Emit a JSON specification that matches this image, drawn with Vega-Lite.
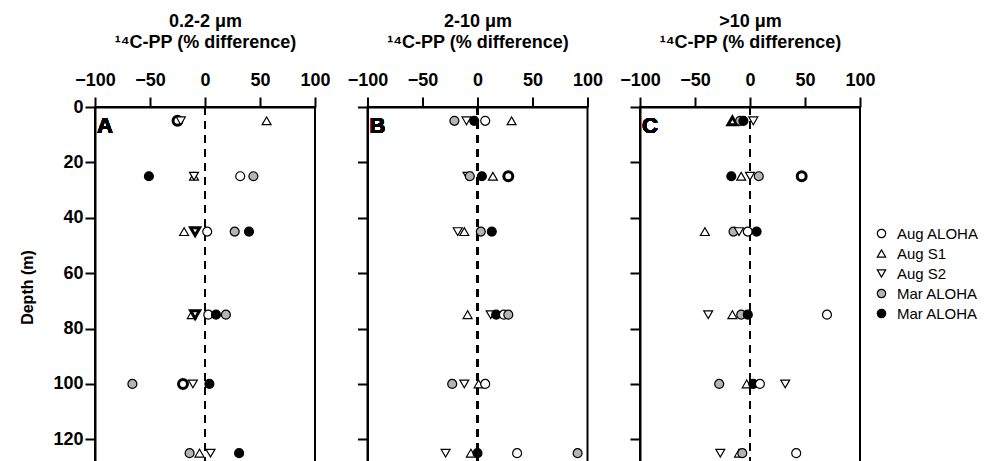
{
  "$schema": "https://vega.github.io/schema/vega-lite/v6.json",
  "padding": {"left": 18, "top": 11, "right": 5, "bottom": 0},
  "background": "white",
  "config": {
    "font": "Liberation Sans",
    "view": {"stroke": "black", "strokeWidth": 2},
    "axis": {"grid": false, "domainColor": "black", "domainWidth": 2, "tickColor": "black", "tickWidth": 2, "tickSize": 10,
      "labelFont": "Liberation Sans", "labelFontWeight": "bold", "labelFontSize": 18, "labelColor": "black", "labelFlush": false, "labelOverlap": false,
      "titleFont": "Liberation Sans", "titleFontWeight": "bold", "titleFontSize": 18, "titleColor": "black"}
  },
  "data": {"values": [
    {"panel": "A", "depth": 5, "pct": -25, "series": "Aug ALOHA", "sig": true},
    {"panel": "A", "depth": 5, "pct": -22, "series": "Aug S2", "sig": false},
    {"panel": "A", "depth": 5, "pct": 56, "series": "Aug S1", "sig": false},
    {"panel": "A", "depth": 25, "pct": -51, "series": "Mar ALOHA 2", "sig": false},
    {"panel": "A", "depth": 25, "pct": -10, "series": "Aug S1", "sig": false},
    {"panel": "A", "depth": 25, "pct": -10, "series": "Aug S2", "sig": false},
    {"panel": "A", "depth": 25, "pct": 32, "series": "Aug ALOHA", "sig": false},
    {"panel": "A", "depth": 25, "pct": 44, "series": "Mar ALOHA 1", "sig": false},
    {"panel": "A", "depth": 45, "pct": -19, "series": "Aug S1", "sig": false},
    {"panel": "A", "depth": 45, "pct": -9, "series": "Aug S2", "sig": true},
    {"panel": "A", "depth": 45, "pct": 2, "series": "Aug ALOHA", "sig": false},
    {"panel": "A", "depth": 45, "pct": 27, "series": "Mar ALOHA 1", "sig": false},
    {"panel": "A", "depth": 45, "pct": 40, "series": "Mar ALOHA 2", "sig": false},
    {"panel": "A", "depth": 75, "pct": -12, "series": "Aug S1", "sig": false},
    {"panel": "A", "depth": 75, "pct": -9, "series": "Aug S2", "sig": true},
    {"panel": "A", "depth": 75, "pct": 3, "series": "Aug ALOHA", "sig": false},
    {"panel": "A", "depth": 75, "pct": 10, "series": "Mar ALOHA 2", "sig": false},
    {"panel": "A", "depth": 75, "pct": 19, "series": "Mar ALOHA 1", "sig": false},
    {"panel": "A", "depth": 100, "pct": -66, "series": "Mar ALOHA 1", "sig": false},
    {"panel": "A", "depth": 100, "pct": -20, "series": "Aug ALOHA", "sig": true},
    {"panel": "A", "depth": 100, "pct": -11, "series": "Aug S2", "sig": false},
    {"panel": "A", "depth": 100, "pct": 4, "series": "Mar ALOHA 2", "sig": false},
    {"panel": "A", "depth": 125, "pct": -14, "series": "Mar ALOHA 1", "sig": false},
    {"panel": "A", "depth": 125, "pct": -5, "series": "Aug S1", "sig": false},
    {"panel": "A", "depth": 125, "pct": 5, "series": "Aug S2", "sig": false},
    {"panel": "A", "depth": 125, "pct": 31, "series": "Mar ALOHA 2", "sig": false},
    {"panel": "B", "depth": 5, "pct": -21, "series": "Mar ALOHA 1", "sig": false},
    {"panel": "B", "depth": 5, "pct": -10, "series": "Aug S2", "sig": false},
    {"panel": "B", "depth": 5, "pct": -3, "series": "Mar ALOHA 2", "sig": false},
    {"panel": "B", "depth": 5, "pct": 7, "series": "Aug ALOHA", "sig": false},
    {"panel": "B", "depth": 5, "pct": 31, "series": "Aug S1", "sig": false},
    {"panel": "B", "depth": 25, "pct": -9, "series": "Aug S2", "sig": false},
    {"panel": "B", "depth": 25, "pct": -7, "series": "Mar ALOHA 1", "sig": false},
    {"panel": "B", "depth": 25, "pct": 4, "series": "Mar ALOHA 2", "sig": false},
    {"panel": "B", "depth": 25, "pct": 14, "series": "Aug S1", "sig": false},
    {"panel": "B", "depth": 25, "pct": 28, "series": "Aug ALOHA", "sig": true},
    {"panel": "B", "depth": 45, "pct": -18, "series": "Aug S2", "sig": false},
    {"panel": "B", "depth": 45, "pct": -12, "series": "Aug S1", "sig": false},
    {"panel": "B", "depth": 45, "pct": 3, "series": "Mar ALOHA 1", "sig": false},
    {"panel": "B", "depth": 45, "pct": 13, "series": "Mar ALOHA 2", "sig": false},
    {"panel": "B", "depth": 75, "pct": -9, "series": "Aug S1", "sig": false},
    {"panel": "B", "depth": 75, "pct": 12, "series": "Aug S2", "sig": false},
    {"panel": "B", "depth": 75, "pct": 17, "series": "Mar ALOHA 2", "sig": false},
    {"panel": "B", "depth": 75, "pct": 24, "series": "Aug ALOHA", "sig": false},
    {"panel": "B", "depth": 75, "pct": 28, "series": "Mar ALOHA 1", "sig": false},
    {"panel": "B", "depth": 100, "pct": -23, "series": "Mar ALOHA 1", "sig": false},
    {"panel": "B", "depth": 100, "pct": -12, "series": "Aug S2", "sig": false},
    {"panel": "B", "depth": 100, "pct": 1, "series": "Aug S1", "sig": false},
    {"panel": "B", "depth": 100, "pct": 7, "series": "Aug ALOHA", "sig": false},
    {"panel": "B", "depth": 125, "pct": -29, "series": "Aug S2", "sig": false},
    {"panel": "B", "depth": 125, "pct": -6, "series": "Aug S1", "sig": false},
    {"panel": "B", "depth": 125, "pct": 0, "series": "Mar ALOHA 2", "sig": false},
    {"panel": "B", "depth": 125, "pct": 36, "series": "Aug ALOHA", "sig": false},
    {"panel": "B", "depth": 125, "pct": 91, "series": "Mar ALOHA 1", "sig": false},
    {"panel": "C", "depth": 5, "pct": -16, "series": "Aug S1", "sig": true},
    {"panel": "C", "depth": 5, "pct": -9, "series": "Mar ALOHA 1", "sig": false},
    {"panel": "C", "depth": 5, "pct": -6, "series": "Mar ALOHA 2", "sig": false},
    {"panel": "C", "depth": 5, "pct": 3, "series": "Aug S2", "sig": false},
    {"panel": "C", "depth": 25, "pct": -17, "series": "Mar ALOHA 2", "sig": false},
    {"panel": "C", "depth": 25, "pct": -8, "series": "Aug S1", "sig": false},
    {"panel": "C", "depth": 25, "pct": 0, "series": "Aug S2", "sig": false},
    {"panel": "C", "depth": 25, "pct": 8, "series": "Mar ALOHA 1", "sig": false},
    {"panel": "C", "depth": 25, "pct": 47, "series": "Aug ALOHA", "sig": true},
    {"panel": "C", "depth": 45, "pct": -41, "series": "Aug S1", "sig": false},
    {"panel": "C", "depth": 45, "pct": -15, "series": "Mar ALOHA 1", "sig": false},
    {"panel": "C", "depth": 45, "pct": -10, "series": "Aug S2", "sig": false},
    {"panel": "C", "depth": 45, "pct": -2, "series": "Aug ALOHA", "sig": false},
    {"panel": "C", "depth": 45, "pct": 6, "series": "Mar ALOHA 2", "sig": false},
    {"panel": "C", "depth": 75, "pct": -38, "series": "Aug S2", "sig": false},
    {"panel": "C", "depth": 75, "pct": -16, "series": "Aug S1", "sig": false},
    {"panel": "C", "depth": 75, "pct": -8, "series": "Mar ALOHA 1", "sig": false},
    {"panel": "C", "depth": 75, "pct": -2, "series": "Mar ALOHA 2", "sig": false},
    {"panel": "C", "depth": 75, "pct": 70, "series": "Aug ALOHA", "sig": false},
    {"panel": "C", "depth": 100, "pct": -28, "series": "Mar ALOHA 1", "sig": false},
    {"panel": "C", "depth": 100, "pct": -3, "series": "Aug S1", "sig": false},
    {"panel": "C", "depth": 100, "pct": 3, "series": "Mar ALOHA 2", "sig": false},
    {"panel": "C", "depth": 100, "pct": 9, "series": "Aug ALOHA", "sig": false},
    {"panel": "C", "depth": 100, "pct": 32, "series": "Aug S2", "sig": false},
    {"panel": "C", "depth": 125, "pct": -27, "series": "Aug S2", "sig": false},
    {"panel": "C", "depth": 125, "pct": -10, "series": "Aug S1", "sig": false},
    {"panel": "C", "depth": 125, "pct": -7, "series": "Mar ALOHA 1", "sig": false},
    {"panel": "C", "depth": 125, "pct": 42, "series": "Aug ALOHA", "sig": false}
  ]},
  "spacing": 13.5,
  "hconcat": [
    {
      "width": 220, "height": 360,
      "transform": [{"filter": "datum.panel == 'A'"}],
      "layer": [
        {"mark": {"type": "rule", "color": "black", "strokeDash": [8, 6], "strokeWidth": 1.5},
         "encoding": {"x": {"datum": 0}}},
        {"mark": {"type": "point", "filled": true, "stroke": "black", "size": 80, "opacity": 1},
         "encoding": {
           "x": {"field": "pct", "type": "quantitative", "scale": {"domain": [-100, 100], "nice": false},
                 "axis": {"orient": "top", "values": [-100, -50, 0, 50, 100], "title": ["0.2-2 μm", "¹⁴C-PP (% difference)"], "titlePadding": 20, "labelPadding": 8, "titleLineHeight": 21}},
           "y": {"field": "depth", "type": "quantitative", "scale": {"domain": [0, 130], "reverse": true, "nice": false},
                 "axis": {"values": [0, 20, 40, 60, 80, 100, 120], "title": "Depth (m)", "titleFontSize": 16, "titlePadding": 17}},
           "shape": {"field": "series", "type": "nominal", "title": null,
             "scale": {"domain": ["Aug ALOHA", "Aug S1", "Aug S2", "Mar ALOHA 1", "Mar ALOHA 2"], "range": ["circle", "triangle-up", "triangle-down", "circle", "circle"]}},
           "fill": {"field": "series", "type": "nominal", "title": null,
             "scale": {"domain": ["Aug ALOHA", "Aug S1", "Aug S2", "Mar ALOHA 1", "Mar ALOHA 2"], "range": ["white", "white", "white", "#b4b4b4", "black"]}},
           "strokeWidth": {"field": "sig", "type": "nominal", "scale": {"domain": [false, true], "range": [1.2, 3]}, "legend": null}
         }},
        {"mark": {"type": "text", "text": "A", "fontSize": 22, "fontWeight": "bold", "align": "left", "baseline": "top", "dx": 2, "dy": 9, "fill": "black"},
         "encoding": {"x": {"datum": -100}, "y": {"datum": 0}}}
      ]
    },
    {
      "width": 220, "height": 360,
      "transform": [{"filter": "datum.panel == 'B'"}],
      "layer": [
        {"mark": {"type": "rule", "color": "black", "strokeDash": [8, 6], "strokeWidth": 1.5},
         "encoding": {"x": {"datum": 0}}},
        {"mark": {"type": "point", "filled": true, "stroke": "black", "size": 80, "opacity": 1},
         "encoding": {
           "x": {"field": "pct", "type": "quantitative", "scale": {"domain": [-100, 100], "nice": false},
                 "axis": {"orient": "top", "values": [-100, -50, 0, 50, 100], "title": ["2-10 μm", "¹⁴C-PP (% difference)"], "titlePadding": 20, "labelPadding": 8, "titleLineHeight": 21}},
           "y": {"field": "depth", "type": "quantitative", "scale": {"domain": [0, 130], "reverse": true, "nice": false},
                 "axis": {"values": [0, 20, 40, 60, 80, 100, 120], "labels": false, "title": null}},
           "shape": {"field": "series", "type": "nominal", "title": null,
             "scale": {"domain": ["Aug ALOHA", "Aug S1", "Aug S2", "Mar ALOHA 1", "Mar ALOHA 2"], "range": ["circle", "triangle-up", "triangle-down", "circle", "circle"]}},
           "fill": {"field": "series", "type": "nominal", "title": null,
             "scale": {"domain": ["Aug ALOHA", "Aug S1", "Aug S2", "Mar ALOHA 1", "Mar ALOHA 2"], "range": ["white", "white", "white", "#b4b4b4", "black"]}},
           "strokeWidth": {"field": "sig", "type": "nominal", "scale": {"domain": [false, true], "range": [1.2, 3]}, "legend": null}
         }},
        {"mark": {"type": "text", "text": "B", "fontSize": 22, "fontWeight": "bold", "align": "left", "baseline": "top", "dx": 2, "dy": 9, "fill": "black"},
         "encoding": {"x": {"datum": -100}, "y": {"datum": 0}}}
      ]
    },
    {
      "width": 220, "height": 360,
      "transform": [{"filter": "datum.panel == 'C'"}],
      "layer": [
        {"mark": {"type": "rule", "color": "black", "strokeDash": [8, 6], "strokeWidth": 1.5},
         "encoding": {"x": {"datum": 0}}},
        {"mark": {"type": "point", "filled": true, "stroke": "black", "size": 80, "opacity": 1},
         "encoding": {
           "x": {"field": "pct", "type": "quantitative", "scale": {"domain": [-100, 100], "nice": false},
                 "axis": {"orient": "top", "values": [-100, -50, 0, 50, 100], "title": [">10 μm", "¹⁴C-PP (% difference)"], "titlePadding": 20, "labelPadding": 8, "titleLineHeight": 21}},
           "y": {"field": "depth", "type": "quantitative", "scale": {"domain": [0, 130], "reverse": true, "nice": false},
                 "axis": {"values": [0, 20, 40, 60, 80, 100, 120], "labels": false, "title": null}},
           "shape": {"field": "series", "type": "nominal", "title": null,
             "scale": {"domain": ["Aug ALOHA", "Aug S1", "Aug S2", "Mar ALOHA 1", "Mar ALOHA 2"], "range": ["circle", "triangle-up", "triangle-down", "circle", "circle"]},
             "legend": {"orient": "none", "legendX": 779, "legendY": 119, "labelFontSize": 15, "labelFont": "Liberation Sans", "labelColor": "black", "labelOffset": 8, "symbolStrokeColor": "black", "symbolStrokeWidth": 1.2, "symbolSize": 70, "rowPadding": 4,
               "labelExpr": "slice(datum.label, 0, 9) == 'Mar ALOHA' ? 'Mar ALOHA' : datum.label"}},
           "fill": {"field": "series", "type": "nominal", "title": null,
             "scale": {"domain": ["Aug ALOHA", "Aug S1", "Aug S2", "Mar ALOHA 1", "Mar ALOHA 2"], "range": ["white", "white", "white", "#b4b4b4", "black"]}},
           "strokeWidth": {"field": "sig", "type": "nominal", "scale": {"domain": [false, true], "range": [1.2, 3]}, "legend": null}
         }},
        {"mark": {"type": "text", "text": "C", "fontSize": 22, "fontWeight": "bold", "align": "left", "baseline": "top", "dx": 2, "dy": 9, "fill": "black"},
         "encoding": {"x": {"datum": -100}, "y": {"datum": 0}}}
      ]
    }
  ]
}
